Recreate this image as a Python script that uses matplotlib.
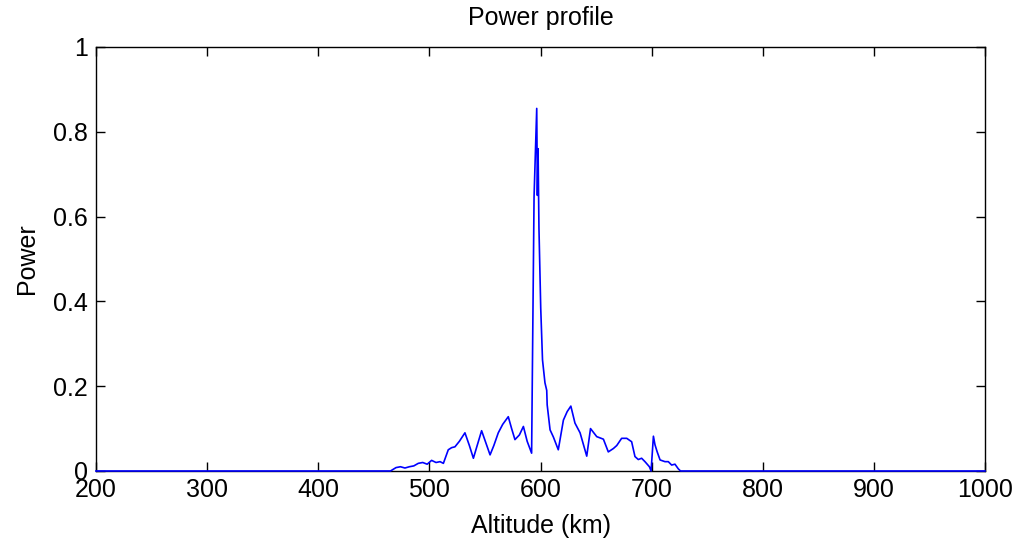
import matplotlib
matplotlib.use("Agg")
import matplotlib.pyplot as plt

# altitude (km) and normalised power
altitude_km = [200, 465, 470, 474, 478, 482, 486, 490, 494, 498, 502, 506,
               509.6, 512.6, 517, 520, 523, 527, 532, 536, 539.6, 543, 547,
               551, 554.6, 558, 562, 566, 571, 574, 577, 581, 584.6, 588,
               592, 592.7, 594.2, 596.6, 597.2, 597.8, 598.6, 600.2, 601.8,
               604, 605.6, 606, 608.6, 611.6, 616, 620.6, 624, 627.3, 631,
               635.6, 641.6, 645, 650.6, 653.6, 656.6, 661, 665.6, 668.6, 673,
               677.6, 682, 685, 688, 691, 694, 698, 699.5, 701.6, 703, 705,
               707.6, 712, 715, 718, 721, 724, 726, 1000]
power = [0, 0, 0.008, 0.01, 0.007, 0.01, 0.012, 0.018, 0.02, 0.016, 0.025,
         0.02, 0.022, 0.018, 0.05, 0.055, 0.057, 0.07, 0.09, 0.06, 0.03,
         0.06, 0.095, 0.065, 0.038, 0.06, 0.09, 0.11, 0.128, 0.1, 0.074,
         0.085, 0.105, 0.07, 0.042, 0.238, 0.647, 0.855, 0.65, 0.76, 0.573,
         0.384, 0.262, 0.208, 0.19, 0.156, 0.097, 0.08, 0.05, 0.12, 0.14,
         0.153, 0.113, 0.09, 0.035, 0.1, 0.081, 0.078, 0.075, 0.045, 0.053,
         0.06, 0.077, 0.077, 0.069, 0.034, 0.027, 0.03, 0.022, 0.01, 0.0,
         0.082, 0.062, 0.045, 0.026, 0.022, 0.022, 0.014, 0.016, 0.005, 0, 0]

x_ticks = [200, 300, 400, 500, 600, 700, 800, 900, 1000]
y_ticks = [0, 0.2, 0.4, 0.6, 0.8, 1]
y_tick_labels = ["0", "0.2", "0.4", "0.6", "0.8", "1"]

plt.rcParams['font.family'] = ['Liberation Sans', 'DejaVu Sans']

fig = plt.figure(figsize=(10.18, 5.46), dpi=100)
ax = fig.add_axes([0.0943, 0.1374, 0.8733, 0.7766])

ax.plot(altitude_km, power, color=(0, 0, 1), lw=1.2, zorder=3, clip_on=False)

ax.set_xlim(200, 1000)
ax.set_ylim(0, 1)
ax.set_xticks(x_ticks)
ax.set_yticks(y_ticks)
ax.set_yticklabels(y_tick_labels)
ax.tick_params(direction='in', top=True, right=True, length=6.5, width=1,
               labelsize=18)
ax.tick_params(axis='x', pad=5)
ax.tick_params(axis='y', pad=6)
for s in ax.spines.values():
    s.set_linewidth(1)

ax.set_title("Power profile", fontsize=18, pad=16)
ax.set_xlabel("Altitude (km)", fontsize=18, labelpad=9)
ax.set_ylabel("Power", fontsize=18, labelpad=10)

fig.savefig("out.png", dpi=100)
